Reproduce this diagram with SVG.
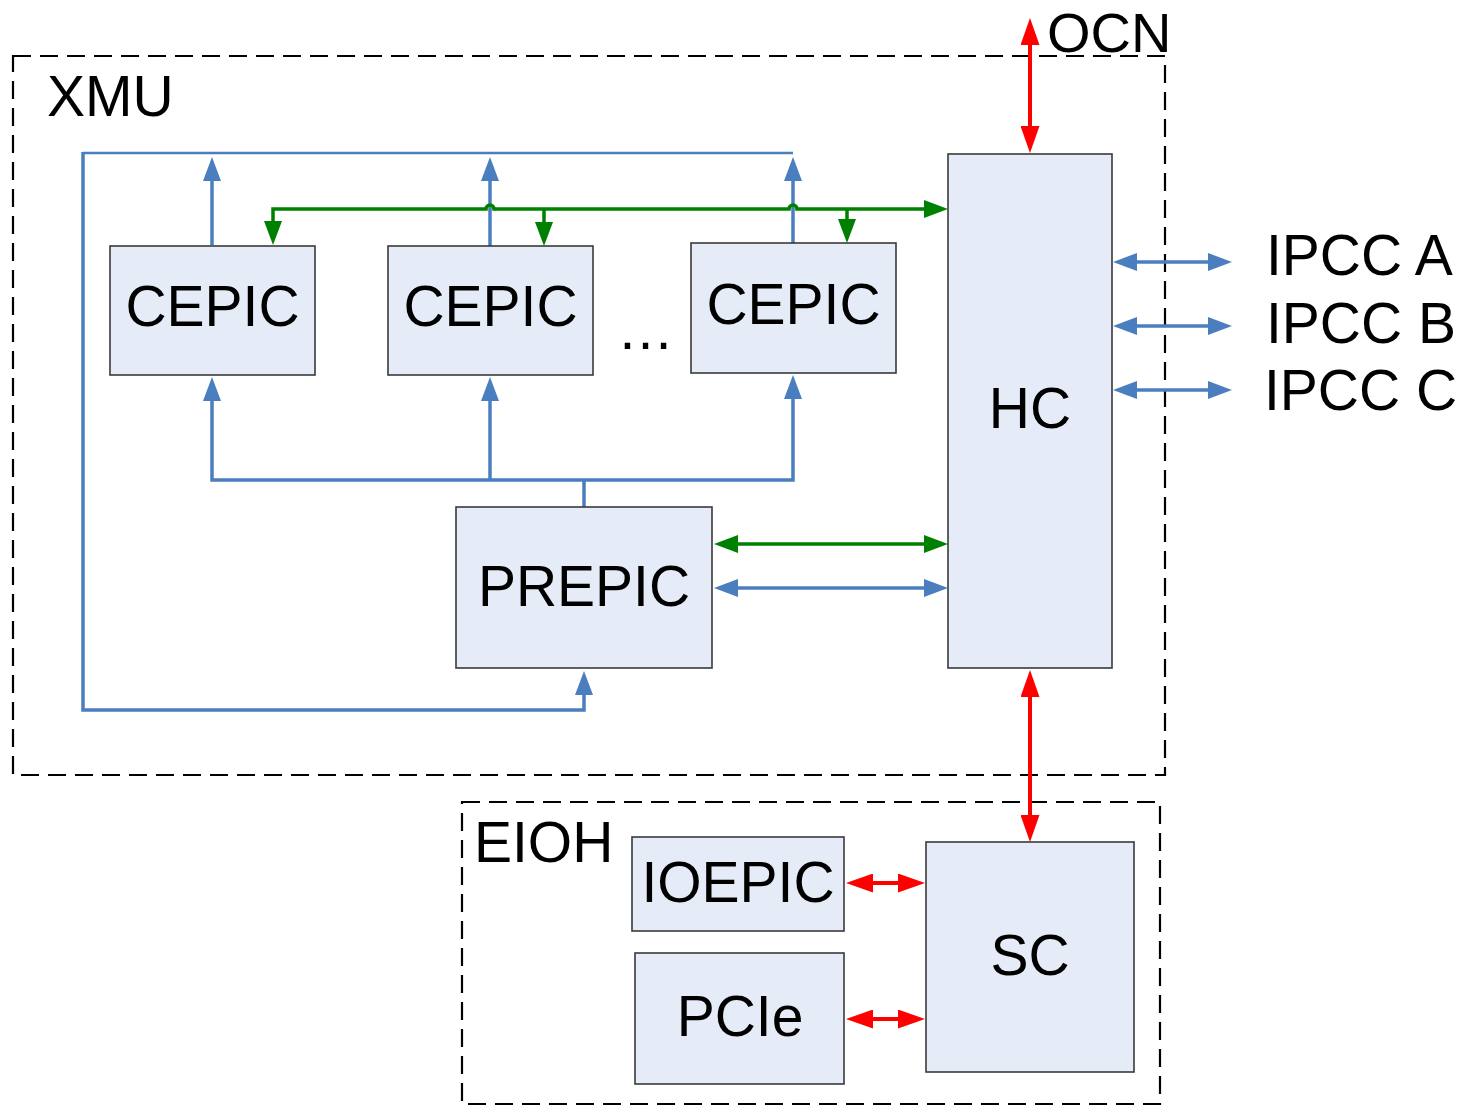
<svg xmlns="http://www.w3.org/2000/svg" width="1463" height="1107" viewBox="0 0 1463 1107">
  <style>
    .bg { fill: #ffffff; }
    .frame { fill: none; stroke: #000000; stroke-width: 2.2; stroke-dasharray: 18 9; }
    .box { fill: #e5ecf7; stroke: #3a3a3a; stroke-width: 1.6; }
    .lbl { font-family: "Liberation Sans", Arial, sans-serif; font-size: 57px; fill: #000000; }
    .mid { text-anchor: middle; }
    .blue { fill: none; stroke: #4a7ebf; stroke-width: 3.5; stroke-linejoin: miter; }
    .blue-thin { fill: none; stroke: #4a7ebf; stroke-width: 2.5; }
    .green { fill: none; stroke: #008000; stroke-width: 3.5; }
    .red { fill: none; stroke: #ff0000; stroke-width: 4; }
  </style>
  <defs>
    <marker id="ahBlue" markerUnits="userSpaceOnUse" viewBox="0 0 24 18" markerWidth="24" markerHeight="18" refX="14" refY="9" orient="auto-start-reverse">
      <path d="M0,0 L24,9 L0,18 z" fill="#4a7ebf"/>
    </marker>
    <marker id="ahGreen" markerUnits="userSpaceOnUse" viewBox="0 0 24 18" markerWidth="24" markerHeight="18" refX="14" refY="9" orient="auto-start-reverse">
      <path d="M0,0 L24,9 L0,18 z" fill="#008000"/>
    </marker>
    <marker id="ahRed" markerUnits="userSpaceOnUse" viewBox="0 0 27 19" markerWidth="27" markerHeight="19" refX="17" refY="9.5" orient="auto-start-reverse">
      <path d="M0,0 L27,9.5 L0,19 z" fill="#ff0000"/>
    </marker>
  </defs>

  <rect class="bg" x="0" y="0" width="1463" height="1107"/>

  <!-- subsystem frames -->
  <g id="xmu">
    <rect class="frame" x="13" y="56" width="1152" height="719"/>
    <text class="lbl" x="47" y="116">XMU</text>
  </g>
  <g id="eioh">
    <rect class="frame" x="462" y="802" width="698" height="302"/>
    <text class="lbl" x="474" y="862">EIOH</text>
  </g>

  <!-- connectors -->
  <g id="connectors">
    <!-- blue feedback loop from the CEPIC tops back to PREPIC -->
    <path class="blue-thin" d="M793,153 L83,153"/>
    <path class="blue" d="M83,152 L83,710 L584,710 L584,681" marker-end="url(#ahBlue)"/>
    <line class="blue" x1="212" y1="245" x2="212" y2="167" marker-end="url(#ahBlue)"/>
    <line class="blue" x1="490" y1="246" x2="490" y2="167" marker-end="url(#ahBlue)"/>
    <line class="blue" x1="793" y1="243" x2="793" y2="167" marker-end="url(#ahBlue)"/>

    <!-- blue distribution bus from PREPIC to the CEPICs -->
    <path class="blue" d="M212,387 L212,480 L793,480 L793,385" marker-start="url(#ahBlue)" marker-end="url(#ahBlue)"/>
    <line class="blue" x1="584" y1="480" x2="584" y2="507"/>
    <line class="blue" x1="490" y1="480" x2="490" y2="387" marker-end="url(#ahBlue)"/>

    <!-- green bus to HC, hopping over the blue risers -->
    <path class="green" d="M273,235 L273,209 L486,209 A4,4 0 0 1 494,209 L789,209 A4,4 0 0 1 797,209 L938,209" marker-start="url(#ahGreen)" marker-end="url(#ahGreen)"/>
    <line class="green" x1="544" y1="209" x2="544" y2="236" marker-end="url(#ahGreen)"/>
    <line class="green" x1="847" y1="209" x2="847" y2="233" marker-end="url(#ahGreen)"/>

    <!-- PREPIC <-> HC -->
    <line class="green" x1="724" y1="544" x2="938" y2="544" marker-start="url(#ahGreen)" marker-end="url(#ahGreen)"/>
    <line class="blue" x1="724" y1="588" x2="938" y2="588" marker-start="url(#ahBlue)" marker-end="url(#ahBlue)"/>

    <!-- HC <-> IPCC links -->
    <line class="blue" x1="1123" y1="262" x2="1222" y2="262" marker-start="url(#ahBlue)" marker-end="url(#ahBlue)"/>
    <line class="blue" x1="1123" y1="326" x2="1222" y2="326" marker-start="url(#ahBlue)" marker-end="url(#ahBlue)"/>
    <line class="blue" x1="1123" y1="390" x2="1222" y2="390" marker-start="url(#ahBlue)" marker-end="url(#ahBlue)"/>

    <!-- red links: OCN, HC <-> SC, SC <-> IO -->
    <line class="red" x1="1030" y1="28" x2="1030" y2="143" marker-start="url(#ahRed)" marker-end="url(#ahRed)"/>
    <line class="red" x1="1030" y1="680" x2="1030" y2="832" marker-start="url(#ahRed)" marker-end="url(#ahRed)"/>
    <line class="red" x1="856" y1="883" x2="915" y2="883" marker-start="url(#ahRed)" marker-end="url(#ahRed)"/>
    <line class="red" x1="856" y1="1019" x2="915" y2="1019" marker-start="url(#ahRed)" marker-end="url(#ahRed)"/>
  </g>

  <!-- nodes -->
  <g id="cepic1">
    <rect class="box" x="110" y="246" width="205" height="129"/>
    <text class="lbl mid" x="212.5" y="326">CEPIC</text>
  </g>
  <g id="cepic2">
    <rect class="box" x="388" y="246" width="205" height="129"/>
    <text class="lbl mid" x="490.5" y="326">CEPIC</text>
  </g>
  <g id="ellipsis">
    <text class="lbl" x="617" y="349">…</text>
  </g>
  <g id="cepic3">
    <rect class="box" x="691" y="243" width="205" height="130"/>
    <text class="lbl mid" x="793.5" y="324">CEPIC</text>
  </g>
  <g id="prepic">
    <rect class="box" x="456" y="507" width="256" height="161"/>
    <text class="lbl mid" x="584" y="606">PREPIC</text>
  </g>
  <g id="hc">
    <rect class="box" x="948" y="154" width="164" height="514"/>
    <text class="lbl mid" x="1030" y="428">HC</text>
  </g>
  <g id="ocn">
    <text class="lbl" x="1047" y="52" style="font-size:56px">OCN</text>
  </g>
  <g id="ipcc">
    <text class="lbl" x="1266" y="275">IPCC A</text>
    <text class="lbl" x="1266" y="343">IPCC B</text>
    <text class="lbl" x="1264" y="410">IPCC C</text>
  </g>
  <g id="ioepic">
    <rect class="box" x="632" y="837" width="212" height="94"/>
    <text class="lbl mid" x="738" y="902">IOEPIC</text>
  </g>
  <g id="pcie">
    <rect class="box" x="635" y="953" width="209" height="131"/>
    <text class="lbl mid" x="740" y="1036">PCIe</text>
  </g>
  <g id="sc">
    <rect class="box" x="926" y="842" width="208" height="230"/>
    <text class="lbl mid" x="1030" y="975">SC</text>
  </g>
</svg>
